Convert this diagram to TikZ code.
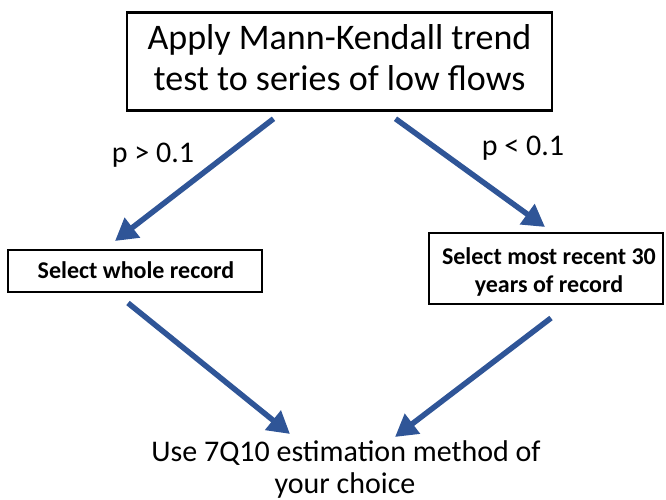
\documentclass[tikz,border=0pt]{standalone}
\usepackage{fontspec}
\setmainfont{Carlito}
\usetikzlibrary{arrows.meta,calc}
\definecolor{arrowblue}{RGB}{47,85,151}
\begin{document}
\begin{tikzpicture}[x=1pt,y=-1pt,
  bigbox/.style={draw=black,line width=2.5pt,minimum width=425pt,minimum height=98pt,inner sep=0pt},
  smallbox/.style={draw=black,line width=2pt,inner sep=0pt},
  bigtext/.style={anchor=base,inner sep=0pt,font=\fontsize{36}{36}\selectfont},
  boxtext/.style={anchor=base,inner sep=0pt,font=\bfseries\fontsize{24}{24}\selectfont},
  endtext/.style={anchor=base,inner sep=0pt,font=\fontsize{30}{30}\selectfont},
  flow/.style={draw=arrowblue,line width=5.5pt,-{Triangle[length=22pt,width=24pt]}},
  lab/.style={anchor=base,font=\fontsize{30}{30}\selectfont,inner sep=0pt}
]
\useasboundingbox (0,0) rectangle (666,500);
\node[bigbox] (top) at (339.5,61.5) {};
\node[bigtext] (top1) at (339.5,50) {Apply Mann-Kendall trend};
\node[bigtext] (top2) at (339.5,91) {test to series of low flows};
\node[smallbox,minimum width=254pt,minimum height=42pt] (left) at (135,271) {};
\node[boxtext] (left1) at (136,278) {Select whole record};
\node[smallbox,minimum width=234pt,minimum height=71pt] (right) at (546,268.5) {};
\node[boxtext] (right1) at (549,264) {Select most recent 30};
\node[boxtext] (right2) at (549,292) {years of record};
\node[endtext] (bottom) at (346,461) {Use 7Q10 estimation method of};
\node[endtext] (bottom2) at (345,493) {your choice};
\node[lab] (lp) at (153,162) {p > 0.1};
\node[lab] (rp) at (523,155) {p < 0.1};
\coordinate (a1s) at ($(top.south)+(-66,7)$);
\coordinate (a1e) at ($(left.north)+(-20,-8)$);
\coordinate (a2s) at ($(top.south)+(56,7)$);
\coordinate (a2e) at ($(right.north)+(-1,-5)$);
\coordinate (a3s) at ($(left.south)+(-7,10)$);
\coordinate (a3e) at ($(bottom.north)+(-56,-6)$);
\coordinate (a4s) at ($(right.south)+(5,13)$);
\coordinate (a4e) at ($(bottom.north)+(49,-3)$);
\draw[flow] (a1s) -- (a1e);
\draw[flow] (a2s) -- (a2e);
\draw[flow] (a3s) -- (a3e);
\draw[flow] (a4s) -- (a4e);
\end{tikzpicture}
\end{document}
